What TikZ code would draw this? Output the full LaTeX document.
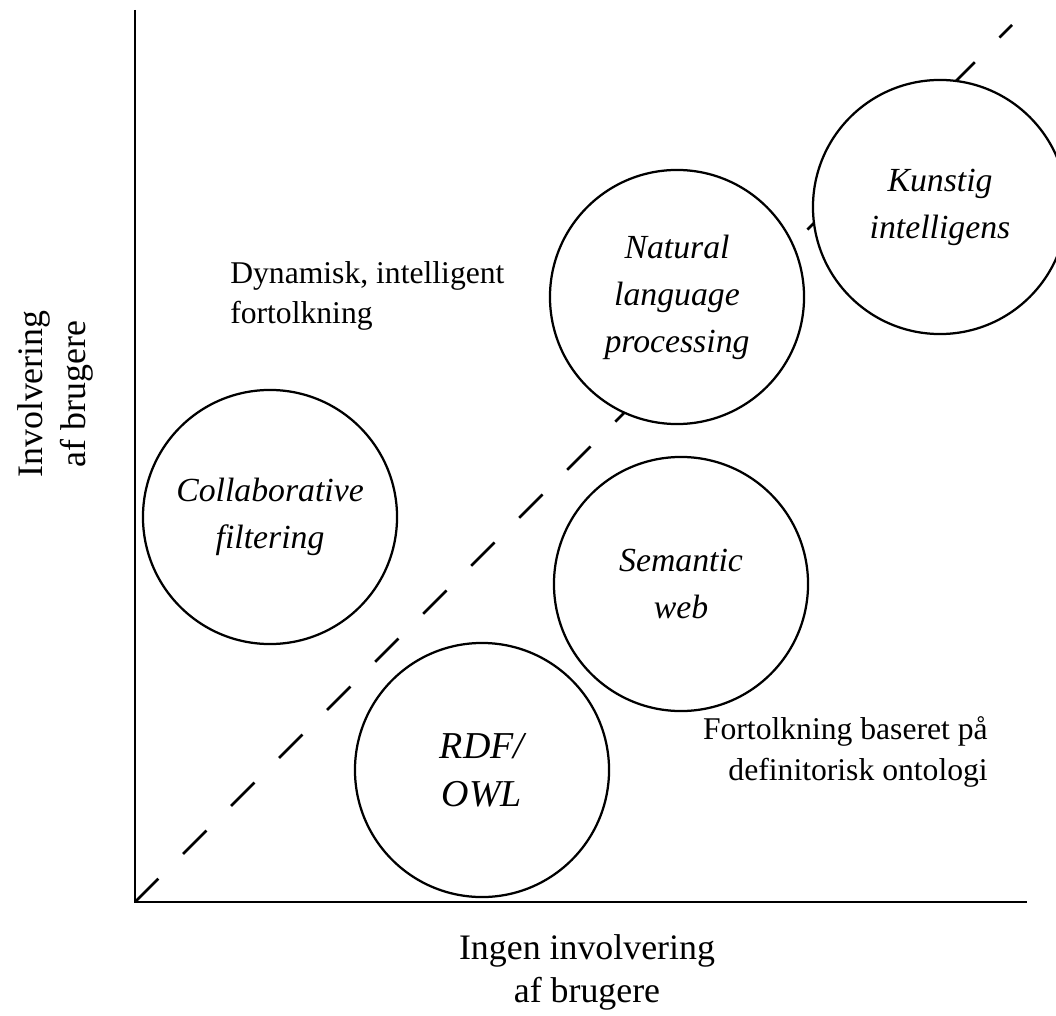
\documentclass[tikz,border=0pt]{standalone}
\usepackage{fontspec}
\setmainfont{Liberation Serif}
\begin{document}
\begin{tikzpicture}[x=0.025cm, y=-0.025cm,
                bubble/.style={circle, draw, line width=1.6pt, fill=white, minimum size=6.35cm, inner sep=0pt, align=center, font=\fontsize{24}{33.4}\selectfont\itshape},
                note/.style={inner sep=0pt, font=\fontsize{22.5}{29}\selectfont},
                axislabel/.style={inner sep=0pt, align=center, font=\fontsize{25.5}{30.5}\selectfont}]
                \useasboundingbox (0,0) rectangle (1056,1016);
                
                \coordinate (origin) at (135,902);
                \coordinate (ytop) at (135,10);
                \coordinate (xend) at (1027,902);
                \coordinate (diagend) at (1012,25);
                
                \draw[line width=1.8pt, dash pattern=on 23.5pt off 24.8pt] (origin) -- (diagend);
                
                \node[bubble] (kunstig) at (940,207) {Kunstig\\intelligens};
                \node[bubble] (nlp) at (677,297) {Natural\\language\\processing};
                \node[bubble] (collab) at (270,517) {Collaborative\\filtering};
                \node[bubble] (semweb) at (681,584) {Semantic\\web};
                \node[bubble, font=\fontsize{27}{34}\selectfont\itshape] (rdf) at (482,770) {RDF/\\OWL};
                
                \draw[line width=1.9pt] (ytop) -- (origin) -- (xend);
                
                \node[note, align=left, anchor=west] (dynamisk) at (230,296) {Dynamisk, intelligent\\fortolkning};
                \node[note, align=right, anchor=east] (definitorisk) at (988,752) {Fortolkning baseret på\\definitorisk ontologi};
                
                \node[axislabel] (xlabel) at (587,972) {Ingen involvering\\af brugere};
                \node[axislabel, rotate=90] (ylabel) at (55,394) {Involvering\\af brugere};
\end{tikzpicture}
\end{document}
